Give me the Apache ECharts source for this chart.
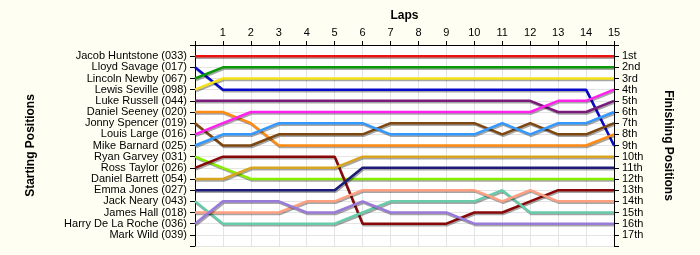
<!DOCTYPE html>
<html><head><meta charset="utf-8">
<script src="https://cdn.jsdelivr.net/npm/echarts@6/dist/echarts.min.js"></script>
<style>html,body{margin:0;padding:0;background:#FFFEF2}#c{width:700px;height:255px}</style>
</head><body><div id="c"></div>
<script>
const laps = [0,1,2,3,4,5,6,7,8,9,10,11,12,13,14,15];
const lapLabels = ['', '1','2','3','4','5','6','7','8','9','10','11','12','13','14','15'];
const drivers = ['Jacob Huntstone (033)','Lloyd Savage (017)','Lincoln Newby (067)','Lewis Seville (098)','Luke Russell (044)','Daniel Seeney (020)','Jonny Spencer (019)','Louis Large (016)','Mike Barnard (025)','Ryan Garvey (031)','Ross Taylor (026)','Daniel Barrett (054)','Emma Jones (027)','Jack Neary (043)','James Hall (018)','Harry De La Roche (036)','Mark Wild (039)'];
const finishLabels = ['1st','2nd','3rd','4th','5th','6th','7th','8th','9th','10th','11th','12th','13th','14th','15th','16th','17th'];

const jacob   = [1,1,1,1,1,1,1,1,1,1,1,1,1,1,1,1];
const lloyd   = [2,4,4,4,4,4,4,4,4,4,4,4,4,4,4,9];
const lincoln = [3,2,2,2,2,2,2,2,2,2,2,2,2,2,2,2];
const lewis   = [4,3,3,3,3,3,3,3,3,3,3,3,3,3,3,3];
const luke    = [5,5,5,5,5,5,5,5,5,5,5,5,5,6,6,5];
const seeney  = [6,6,7,9,9,9,9,9,9,9,9,9,9,9,9,8];
const jonny   = [7,9,9,8,8,8,8,7,7,7,7,8,7,8,8,7];
const louis   = [8,7,6,6,6,6,6,6,6,6,6,6,6,5,5,4];
const mike    = [9,8,8,7,7,7,7,8,8,8,8,7,8,7,7,6];
const ryan    = [10,11,12,12,12,12,12,12,12,12,12,12,12,12,12,12];
const ross    = [11,10,10,10,10,10,16,16,16,16,15,15,14,13,13,13];
const barrett = [12,12,11,11,11,11,10,10,10,10,10,10,10,10,10,10];
const emma    = [13,13,13,13,13,13,11,11,11,11,11,11,11,11,11,11];
const jack    = [14,16,16,16,16,16,15,14,14,14,14,13,15,15,15,15];
const james   = [15,15,15,15,14,14,13,13,13,13,13,14,13,14,14,14];
const harry   = [16,14,14,14,15,15,14,15,15,15,16,16,16,16,16,16];

const seriesValues = [jacob,lloyd,lincoln,lewis,luke,seeney,jonny,louis,mike,ryan,ross,barrett,emma,jack,james,harry];
const seriesColors = ['#EE1111','#0A0ACC','#0A990A','#F2E21E','#7A1A7A','#FF8A14','#7E4710','#FF22EE','#3399FF','#88EE00','#880808','#D8A520','#1C1C78','#66CCAA','#FFA080','#9A7AD8'];

const font = 'Liberation Sans, Arial, sans-serif';
const chart = echarts.init(document.getElementById('c'), null, {renderer:'canvas'});
const series = seriesValues.map((vals,i)=>({
  type:'line', name: drivers[i], symbol:'none', silent:true,
  data: laps.map((l,j)=>[l, vals[j]]),
  lineStyle:{color:seriesColors[i], width:2.5, shadowColor:'rgba(0,0,0,0.35)', shadowBlur:0, shadowOffsetX:1, shadowOffsetY:1.5},
  z: 10
}));
const tickStyle = {show:true, inside:false, length:5, lineStyle:{color:'#000', width:1, opacity:1}};
const yCommon = {
  type:'value', inverse:true, min:0, max:18, interval:1, z:5,
  axisLine:{show:true, onZero:false, lineStyle:{color:'#000', width:1}},
  axisTick: tickStyle,
  splitLine:{show:false},
  nameLocation:'middle',
  nameTextStyle:{fontFamily:font, fontSize:12, fontWeight:'bold', color:'#000'}
};
chart.setOption({
  animation:false,
  backgroundColor:'#FFFEF2',
  grid:{left:195, right:86, top:45, bottom:9, show:true, backgroundColor:'#ffffff', borderWidth:0, z:-1},
  xAxis:{type:'value', position:'top', min:0, max:15, interval:1, z:5,
    name:'Laps', nameLocation:'middle', nameGap:22,
    nameTextStyle:{fontFamily:font, fontSize:12, fontWeight:'bold', color:'#000'},
    axisLine:{show:true, onZero:false, lineStyle:{color:'#000'}},
    axisTick:{show:true, inside:false, length:4, lineStyle:{color:'#000', width:1, opacity:1}},
    axisLabel:{fontFamily:font, fontSize:11, color:'#000', margin:7, formatter:(v)=>lapLabels[v]||''},
    splitLine:{show:true, lineStyle:{color:'#E4E4E4', width:1}}
  },
  yAxis:[
    Object.assign({}, yCommon, {position:'left', name:'Starting Positions', nameGap:158, nameRotate:90,
      splitLine:{show:true, lineStyle:{color:'#E4E4E4', width:1}},
      axisLabel:{fontFamily:font, fontSize:11, color:'#000', margin:8, formatter:(v)=> (v>=1&&v<=17)?drivers[v-1]:''}}),
    Object.assign({}, yCommon, {position:'right', name:'Finishing Positions', nameGap:48, nameRotate:-90,
      axisLabel:{fontFamily:font, fontSize:11, color:'#000', margin:8, formatter:(v)=> (v>=1&&v<=17)?finishLabels[v-1]:''}})
  ],
  series: series
});
</script></body></html>
